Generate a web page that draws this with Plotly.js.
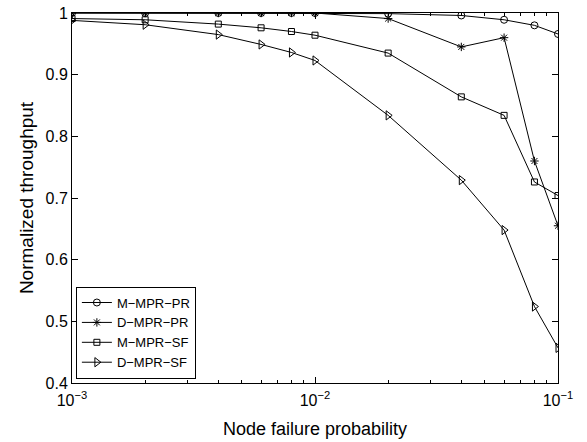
<!DOCTYPE html>
<html>
<head>
<meta charset="utf-8">
<script src="https://cdn.plot.ly/plotly-3.0.1.min.js"></script>
<style>html,body{margin:0;padding:0;background:#fff;}#chart{width:587px;height:442px;}</style>
</head>
<body>
<div id="chart"></div>
<script>
const xValues = [0.001, 0.002, 0.004, 0.006, 0.008, 0.01, 0.02, 0.04, 0.06, 0.08, 0.1];
const mMprPr = [1, 1, 1, 1, 1, 1, 0.999, 0.996, 0.989, 0.980, 0.966];
const dMprPr = [1, 1, 1, 1, 1, 1, 0.991, 0.945, 0.960, 0.760, 0.655];
const mMprSf = [0.991, 0.989, 0.982, 0.976, 0.970, 0.964, 0.935, 0.864, 0.834, 0.726, 0.704];
const dMprSf = [0.988, 0.981, 0.965, 0.949, 0.936, 0.923, 0.834, 0.729, 0.648, 0.524, 0.457];
const seriesNames = ["M\u2212MPR\u2212PR", "D\u2212MPR\u2212PR", "M\u2212MPR\u2212SF", "D\u2212MPR\u2212SF"];
const xTickVals = [0.001, 0.01, 0.1];
const xTickText = ["10<sup>\u22123</sup>", "10<sup>\u22122</sup>", "10<sup>\u22121</sup>"];
const yTickVals = [0.4, 0.5, 0.6, 0.7, 0.8, 0.9, 1];
const yTickText = ["0.4", "0.5", "0.6", "0.7", "0.8", "0.9", "1"];

const allY = [mMprPr, dMprPr, mMprSf, dMprSf];
const symbols = ["circle-open", "asterisk-open", "square-open", "triangle-right-open"];
const sizes = [7, 7, 6, 8];

const traces = allY.map((ys, i) => ({
  x: xValues, y: ys, name: seriesNames[i], type: "scatter", mode: "lines+markers",
  line: {color: "#000", width: 1},
  marker: {symbol: symbols[i], size: sizes[i], color: "#000", line: {color: "#000", width: 1}}
}));

const font = "Liberation Sans, Arial, Helvetica, sans-serif";
const layout = {
  width: 587, height: 442,
  margin: {l: 72, r: 29, t: 13, b: 59},
  paper_bgcolor: "#fff", plot_bgcolor: "#fff",
  font: {family: font, color: "#000", size: 16},
  showlegend: true,
  legend: {x: 0.008, y: 0.012, xanchor: "left", yanchor: "bottom",
    bordercolor: "#000", borderwidth: 1, bgcolor: "#fff",
    font: {size: 13, family: font}, tracegroupgap: 0, itemwidth: 30},
  xaxis: {
    type: "log", range: [-3, -1],
    tickvals: xTickVals, ticktext: xTickText,
    ticks: "inside", ticklen: 6, tickcolor: "#000",
    showline: true, linecolor: "#000", linewidth: 1, mirror: "ticks",
    showgrid: false, zeroline: false,
    minor: {ticks: "inside", ticklen: 3, tickcolor: "#000", dtick: "D1", showgrid: false},
    tickfont: {size: 16}, ticklabelstandoff: 3,
    title: {text: "Node failure probability", font: {size: 18}, standoff: 14}
  },
  yaxis: {
    range: [0.4, 1],
    tickvals: yTickVals, ticktext: yTickText,
    ticks: "inside", ticklen: 6, tickcolor: "#000",
    showline: true, linecolor: "#000", linewidth: 1, mirror: "ticks",
    showgrid: false, zeroline: false,
    tickfont: {size: 16},
    title: {text: "Normalized throughput", font: {size: 19}, standoff: 6}
  }
};
Plotly.newPlot("chart", traces, layout, {displayModeBar: false, staticPlot: true});
</script>
</body>
</html>
